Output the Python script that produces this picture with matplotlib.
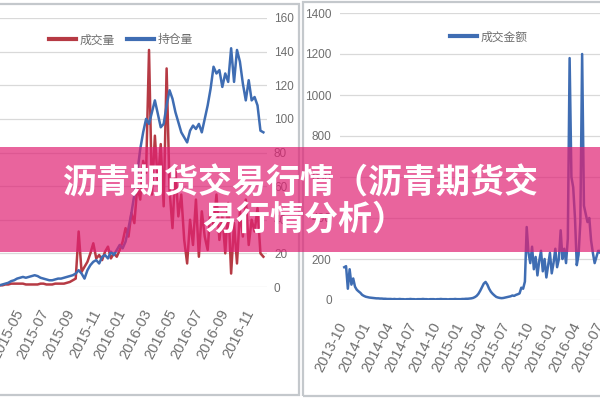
import numpy as np
import pandas as pd
import matplotlib
matplotlib.use('Agg')
import matplotlib.pyplot as plt
import matplotlib.dates as mdates
from matplotlib.patches import Rectangle

plt.rcParams['font.family'] = ['Noto Sans CJK SC', 'DejaVu Sans']

# ---------------- data ----------------
LEFT_START = '2015-03-13'          # weekly samples
VOLUME = [1, 1, 1.5, 1.5, 2, 2, 2, 2, 2, 1.5,
          1.5, 1.5, 1.5, 1.5, 2, 2, 1.5, 1.5, 1.5, 2,
          2, 2, 2, 2.5, 3, 4, 5, 33, 9, 12,
          15, 20, 26, 17, 19, 16, 21, 24, 17, 20,
          18, 22, 27, 35, 30, 44, 38, 60, 52, 75,
          68, 141, 55, 90, 62, 85, 48, 130, 58, 35,
          70, 42, 55, 28, 14, 40, 25, 52, 18, 45,
          30, 22, 48, 35, 55, 28, 42, 20, 50, 8,
          38, 14, 45, 30, 52, 25, 40, 33, 47, 20,
          18]
OPEN_INTEREST = [1, 1.5, 2, 2.5, 3.5, 4, 5, 5.5, 6, 5.5,
                 6, 6.5, 7, 6.5, 5.5, 5, 4.5, 4, 4, 4.5,
                 5, 5, 5.5, 6, 6.5, 7, 8, 10, 8, 5,
                 10, 13, 15, 16, 14, 18, 19, 17, 21, 19,
                 22, 25, 23, 27, 35, 44, 55, 68, 82, 92,
                 100, 97, 104, 111, 103, 95, 97, 108, 117, 112,
                 104, 98, 92, 89, 86, 93, 96, 94, 97, 92,
                 100, 108, 118, 131, 127, 129, 119, 127, 122, 142,
                 122, 141, 134, 121, 111, 123, 111, 113, 108, 93,
                 92]
LEFT_TICKS = ['2015-03', '2015-05', '2015-07', '2015-09', '2015-11',
              '2016-01', '2016-03', '2016-05', '2016-07', '2016-09', '2016-11']
LEFT_YTICKS = [0, 20, 40, 60, 80, 100, 120, 140, 160]

RIGHT_START = '2013-10-04'         # weekly samples
TURNOVER = [160, 165, 55, 150, 75, 105, 65, 50, 42, 35, 25, 20, 16,
            14, 12, 11, 10, 9, 8, 8, 7, 7, 6, 6, 5, 5,
            5, 4, 5, 4, 4, 5, 4, 4, 3, 4, 4, 5, 4, 4, 3, 4, 4, 4, 5, 4,
            4, 3, 4, 4, 4, 3, 4, 4, 5, 4, 4, 4, 3, 4, 4, 4, 5, 4, 4, 4,
            5, 5, 6, 6, 7, 8,
            10, 14, 20, 30, 45, 62, 80, 88, 75, 55, 40, 30, 22, 15, 12,
            10, 9, 10, 12, 14, 16, 18, 22, 20, 25, 28, 32, 60,
            55, 90, 356, 230, 180, 260, 150, 210, 120, 190,
            240, 140, 200, 110, 170, 230, 130, 180, 250, 160,
            200, 340, 200, 250, 180, 300, 1180, 600, 550, 400,
            170, 220, 380, 1200, 460, 420, 380, 400, 290, 230,
            180, 210, 240, 230, 260, 220, 300, 250, 280, 240,
            260]
RIGHT_TICKS = ['2013-10', '2014-01', '2014-04', '2014-07', '2014-10', '2015-01',
               '2015-04', '2015-07', '2015-10', '2016-01', '2016-04', '2016-07']
RIGHT_YTICKS = [0, 200, 400, 600, 800, 1000, 1200, 1400]

TITLE_LINES = ['沥青期货交易行情（沥青期货交', '易行情分析）']
LEGEND_LEFT = ['成交量', '持仓量']
LEGEND_RIGHT = ['成交金额']

# ---------------- style ----------------
W, H = 600, 400
def fx(px):
    return px / W
def fy(py):
    return 1 - py / H

TICK_FONT = ['Liberation Sans Narrow', 'Liberation Sans', 'DejaVu Sans']
GRAY = '#6E6E6E'
GRID = '#D9D9D9'
RED = '#B63A44'
BLUE = '#3F6DB3'

fig = plt.figure(figsize=(6, 4), dpi=100)


def date_num(s):
    return mdates.date2num(pd.Timestamp(s).to_pydatetime())


def style_axes(ax):
    for s in ax.spines.values():
        s.set_visible(False)
    ax.grid(axis='y', color=GRID, lw=0.9)
    ax.set_axisbelow(True)
    ax.tick_params(length=0)


# ---------------- left chart ----------------
axL = fig.add_axes([fx(-15), fy(287), fx(282), (287 - 18) / H])
dL = pd.date_range(LEFT_START, periods=len(VOLUME), freq='7D')
axL.plot(dL, VOLUME, color=RED, lw=1.8, label=LEGEND_LEFT[0], zorder=2)
axL.plot(dL, OPEN_INTEREST, color=BLUE, lw=1.8, label=LEGEND_LEFT[1], zorder=3)
pxL = 0.4189  # pixels per day
x0 = date_num('2015-05-01')
axL.set_xlim(x0 - 35 / pxL, x0 + 247 / pxL)
axL.set_ylim(0, 160)
axL.set_yticks(LEFT_YTICKS)
axL.yaxis.tick_right()
axL.set_xticks([date_num(t + '-01') for t in LEFT_TICKS])
axL.set_xticklabels(LEFT_TICKS, rotation=63, ha='right', va='center',
                    rotation_mode='anchor', fontsize=10.5, family=TICK_FONT, color=GRAY)
for lab in axL.get_yticklabels():
    lab.set_family(TICK_FONT)
    lab.set_fontsize(8.5)
    lab.set_color(GRAY)
style_axes(axL)
axL.tick_params(axis='x', pad=17)
axL.tick_params(axis='y', pad=5)
legL = axL.legend(loc='center', bbox_to_anchor=(fx(121), fy(40)), bbox_transform=fig.transFigure,
                  ncol=2, frameon=False, fontsize=8.5, handlelength=2.3, handletextpad=0.3,
                  columnspacing=1.0)
for t in legL.get_texts():
    t.set_color(GRAY)
for ln in legL.get_lines():
    ln.set_linewidth(3)

# ---------------- right chart ----------------
axR = fig.add_axes([fx(340), fy(300), fx(307), (300 - 13) / H])
dR = pd.date_range(RIGHT_START, periods=len(TURNOVER), freq='7D')
axR.plot(dR, TURNOVER, color=BLUE, lw=1.8, label=LEGEND_RIGHT[0], zorder=2)
pxR = 0.2555
r0 = date_num('2013-10-01')
axR.set_xlim(r0 - 3.5 / pxR, r0 + 303.5 / pxR)
axR.set_ylim(0, 1400)
axR.set_yticks(RIGHT_YTICKS)
axR.set_xticks([date_num(t + '-01') for t in RIGHT_TICKS])
axR.set_xticklabels(RIGHT_TICKS, rotation=63, ha='right', va='center',
                    rotation_mode='anchor', fontsize=10.5, family=TICK_FONT, color=GRAY)
for lab in axR.get_yticklabels():
    lab.set_family(TICK_FONT)
    lab.set_fontsize(8.5)
    lab.set_color(GRAY)
style_axes(axR)
axR.tick_params(axis='x', pad=17)
axR.tick_params(axis='y', pad=6)
legR = axR.legend(loc='center', bbox_to_anchor=(fx(489), fy(37)), bbox_transform=fig.transFigure,
                  ncol=1, frameon=False, fontsize=8.5, handlelength=2.3, handletextpad=0.3)
for t in legR.get_texts():
    t.set_color(GRAY)
for ln in legR.get_lines():
    ln.set_linewidth(3)

# ---------------- panel frames ----------------
fig.add_artist(Rectangle((fx(-5), fy(395)), fx(304), (395 - 4) / H, transform=fig.transFigure,
                         fill=False, edgecolor='#C4C8CC', lw=1.6, zorder=5))
fig.add_artist(Rectangle((fx(303), fy(396)), fx(310), (396 - 2) / H, transform=fig.transFigure,
                         fill=False, edgecolor='#C4C8CC', lw=1.6, zorder=5))

# ---------------- banner ----------------
fig.add_artist(Rectangle((0, fy(252)), 1, (252 - 147) / H, transform=fig.transFigure,
                         facecolor='#E02274', alpha=0.7, edgecolor='none', zorder=10))
fig.text(0.5, fy(183), TITLE_LINES[0], ha='center', va='center', color='white',
         fontsize=24.5, fontweight='bold', zorder=11)
fig.text(0.507, fy(219), TITLE_LINES[1], ha='center', va='center', color='white',
         fontsize=24.5, fontweight='bold', zorder=11)

fig.savefig('out.png', dpi=100)
